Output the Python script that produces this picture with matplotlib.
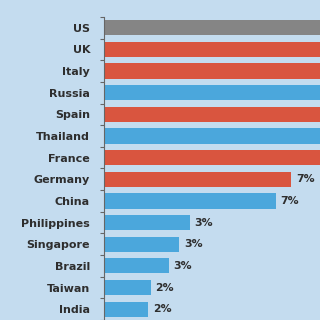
import matplotlib.pyplot as plt

countries = ["US", "UK", "Italy", "Russia", "Spain", "Thailand", "France",
             "Germany", "China", "Philippines", "Singapore", "Brazil", "Taiwan", "India"]
# share in %, the first seven run off the right edge of the crop
shares = [40.0, 15.0, 14.0, 13.0, 12.0, 10.0, 9.0,
          7.2, 6.6, 3.3, 2.9, 2.5, 1.8, 1.7]
# value labels of the cropped bars are not visible
value_labels = ["", "", "", "", "", "", "",
                "7%", "7%", "3%", "3%", "3%", "2%", "2%"]
groups = ["us", "eu", "eu", "other", "eu", "other", "eu",
          "eu", "other", "other", "other", "other", "other", "other"]

group_colors = {"us": "#858585", "eu": "#d9553f", "other": "#4ba7dc"}
bg = "#c4dcef"

fig = plt.figure(figsize=(3.2, 3.2), dpi=100, facecolor=bg)
ax = fig.add_axes([0.325, 0.0, 0.675, 0.947], facecolor=bg)

ypos = list(range(len(countries)))
ax.barh(ypos, shares, height=0.7, color=[group_colors[g] for g in groups])

for y, v, lab in zip(ypos, shares, value_labels):
    if lab:
        ax.text(v + 0.17, y, lab, va="center", ha="left", fontsize=7.8,
                fontweight="bold", color="#2e2e2e")

ax.set_xlim(0, 8.3)
ax.set_ylim(13.4, -0.5)
ax.set_yticks(ypos)
ax.set_yticklabels(countries, fontsize=8, fontweight="bold", color="#2e2e2e")
ax.tick_params(axis="y", which="major", length=0, pad=10)
ax.set_yticks([i - 0.5 for i in range(len(countries) + 1)], minor=True)
ax.tick_params(axis="y", which="minor", length=3, width=0.8, color="#666666")
ax.set_xticks([])

for side in ["top", "right", "bottom"]:
    ax.spines[side].set_visible(False)
ax.spines["left"].set_color("#666666")
ax.spines["left"].set_linewidth(0.8)

fig.savefig("out.png", dpi=100, facecolor=bg)
